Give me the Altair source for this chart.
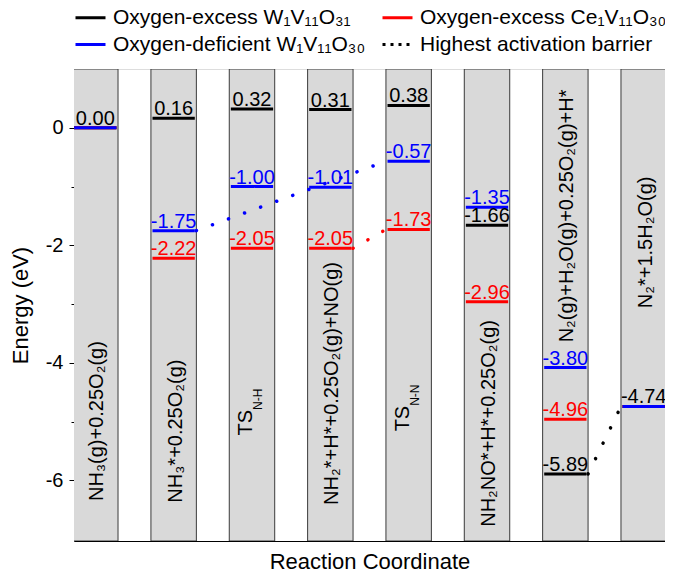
import altair as alt
import pandas as pd

FONT = "Liberation Sans"

# ---------------- data ----------------
step_labels = ["NH₃(g)+0.25O₂(g)", "NH₃*+0.25O₂(g)", "TS", "NH₂*+H*+0.25O₂(g)+NO(g)",
               "TS", "NH₂NO*+H*+0.25O₂(g)", "N₂(g)+H₂O(g)+0.25O₂(g)+H*", "N₂*+1.5H₂O(g)"]
step_subs = ["", "", "N-H", "", "N-N", "", "", ""]

series_names = ["Oxygen-excess W₁V₁₁O₃₁", "Oxygen-excess Ce₁V₁₁O₃₀", "Oxygen-deficient W₁V₁₁O₃₀"]
barrier_name = "Highest activation barrier"
# level heights as drawn in the picture
energy_w_excess = [0.00, 0.16, 0.32, 0.31, 0.38, -1.66, -5.89, -4.74]
energy_ce_excess = [0.00, -2.22, -2.05, -2.05, -1.73, -2.96, -4.96, -4.74]
energy_w_deficient = [0.00, -1.75, -1.00, -1.01, -0.57, -1.35, -4.08, -4.74]
# value labels as printed in the picture
labels_w_excess = ["0.00", "0.16", "0.32", "0.31", "0.38", "-1.66", "-5.89", "-4.74"]
labels_ce_excess = ["0.00", "-2.22", "-2.05", "-2.05", "-1.73", "-2.96", "-4.96", "-4.74"]
labels_w_deficient = ["0.00", "-1.75", "-1.00", "-1.01", "-0.57", "-1.35", "-3.80", "-4.74"]
series_colors = ["#000000", "#ff0000", "#0000ff"]
# highest activation barrier connectors: (series index, from step, to step)
barrier_links = [(2, 1, 4), (1, 3, 4), (0, 6, 7)]

# ---------------- layout ----------------
W, H = 591, 472
BAR_HALF = 0.29
LEVEL_HALF = 0.27
label_anchor_y = [-4.99, -5.16, -4.80, -4.35, -4.73, -5.03, -1.50, -1.95]

energies = [energy_w_excess, energy_ce_excess, energy_w_deficient]
value_labels = [labels_w_excess, labels_ce_excess, labels_w_deficient]

bars = pd.DataFrame({"x1": [i - BAR_HALF for i in range(len(step_labels))],
                     "x2": [i + BAR_HALF for i in range(len(step_labels))]})

lv_rows, lab_rows = [], []
for s, (name, col, vals, labs) in enumerate(zip(series_names, series_colors, energies, value_labels)):
    for i, (v, t) in enumerate(zip(vals, labs)):
        lv_rows.append({"series": name, "x1": i - LEVEL_HALF, "x2": i + LEVEL_HALF, "energy": v})
        dup = any(value_labels[k][i] == t for k in range(s))
        if not dup:
            lab_rows.append({"xc": i, "energy": v, "label": t, "col": col})
levels = pd.DataFrame(lv_rows)
vlabels = pd.DataFrame(lab_rows)

cn_rows = []
for cid, (s, a, b) in enumerate(barrier_links):
    cn_rows.append({"cid": cid, "ord": 0, "x": a + BAR_HALF, "energy": energies[s][a], "col": series_colors[s]})
    cn_rows.append({"cid": cid, "ord": 1, "x": b - BAR_HALF, "energy": energies[s][b], "col": series_colors[s]})
conns = pd.DataFrame(cn_rows)

cat = pd.DataFrame({"x": list(range(len(step_labels))), "y": label_anchor_y,
                    "text": step_labels, "sub": step_subs})
cat_plain = cat[cat["sub"] == ""]
cat_ts = cat[cat["sub"] != ""]

# ---------------- scales / axes ----------------
xs = alt.Scale(domain=[-0.272, 7.272], nice=False, zero=False)
ys = alt.Scale(domain=[-7.03, 1.0], nice=False, zero=False)
xaxis = alt.Axis(title="Reaction Coordinate", ticks=False, labels=False, grid=False,
                 domainColor="black", titleFontSize=22, titleFontWeight="normal",
                 titleFont=FONT, titleColor="black", titlePadding=10)
yaxis = alt.Axis(title="Energy (eV)", values=list(range(-6, 1)), grid=False,
                 labelExpr="datum.value % 2 === 0 ? '' + datum.value : ''",
                 tickSize={"condition": {"test": "datum.value % 2 === 0", "value": 5}, "value": 3},
                 domainColor="black", tickColor="black", labelColor="black", titleColor="black",
                 labelFontSize=20, labelFont=FONT, titleFontSize=22, titleFont=FONT,
                 titleFontWeight="normal", labelPadding=6, titlePadding=13)
yaxis_right = alt.Axis(orient="right", values=list(range(-6, 1)), labels=False, domain=False,
                       grid=False, tickSize=3, tickColor="black", title="")

legend_names = series_names + [barrier_name]
legend_colors = series_colors + ["#000000"]
legend_dashes = [[1, 0], [1, 0], [1, 0], [3, 5]]
leg = alt.Legend(orient="none", legendX=0, legendY=-68, columns=2, direction="horizontal",
                 title=None, labelFontSize=21, labelFont=FONT, labelColor="black", labelLimit=500,
                 symbolType="stroke", symbolSize=900, symbolStrokeWidth=3, rowPadding=0,
                 columnPadding=10, labelOffset=6, padding=0)

bar_layer = alt.Chart(bars).mark_rect(fill="#d9d9d9", stroke="#3a3a3a", strokeWidth=1, clip=True).encode(
    x=alt.X("x1:Q", scale=xs, axis=xaxis), x2="x2:Q",
    y=alt.value(0), y2=alt.value(H))

level_layer = alt.Chart(levels).mark_rule(strokeWidth=3).encode(
    x=alt.X("x1:Q", scale=xs, axis=xaxis), x2="x2:Q",
    y=alt.Y("energy:Q", scale=ys, axis=yaxis),
    color=alt.Color("series:N", scale=alt.Scale(domain=legend_names, range=legend_colors), legend=leg),
    strokeDash=alt.StrokeDash("series:N", scale=alt.Scale(domain=legend_names, range=legend_dashes), legend=leg))

right_axis_layer = alt.Chart(levels).mark_point(opacity=0).encode(
    x=alt.X("x1:Q", scale=xs, axis=xaxis),
    y=alt.Y("energy:Q", scale=ys, axis=yaxis_right))

conn_layer = alt.Chart(conns).mark_line(strokeWidth=3.5, strokeDash=[0.1, 17], strokeCap="round").encode(
    x=alt.X("x:Q", scale=xs, axis=xaxis), y=alt.Y("energy:Q", scale=ys, axis=None),
    color=alt.Color("col:N", scale=None), detail="cid:N", order="ord:Q")

vlabel_layer = alt.Chart(vlabels).mark_text(fontSize=20, font=FONT, baseline="alphabetic", align="center", dy=-3).encode(
    x=alt.X("xc:Q", scale=xs, axis=xaxis), y=alt.Y("energy:Q", scale=ys, axis=None),
    text="label:N", color=alt.Color("col:N", scale=None))

cat_layer = alt.Chart(cat_plain).mark_text(angle=270, fontSize=20, font=FONT, baseline="middle",
                                           align="center", dy=2, color="black").encode(
    x=alt.X("x:Q", scale=xs, axis=xaxis), y=alt.Y("y:Q", scale=ys, axis=None), text="text:N")

ts_layer = alt.Chart(cat_ts).mark_text(angle=270, fontSize=20, font=FONT, baseline="middle",
                                       align="right", dy=-6, color="black").encode(
    x=alt.X("x:Q", scale=xs, axis=xaxis), y=alt.Y("y:Q", scale=ys, axis=None), text="text:N")

ts_sub_layer = alt.Chart(cat_ts).mark_text(angle=270, fontSize=12, font=FONT, baseline="middle",
                                           align="left", dy=6, color="black").encode(
    x=alt.X("x:Q", scale=xs, axis=xaxis), y=alt.Y("y:Q", scale=ys, axis=None), text="sub:N")

chart = alt.layer(bar_layer, level_layer, right_axis_layer, conn_layer, vlabel_layer,
                  cat_layer, ts_layer, ts_sub_layer).resolve_axis(y="independent").properties(
    width=W, height=H,
    autosize=alt.AutoSizeParams(type="none"),
    padding={"left": 66, "top": 61, "right": 0, "bottom": 32},
).configure_view(stroke="black", strokeWidth=1).configure(font=FONT, background="white")

chart.save("out.html", embed_options={"renderer": "svg", "actions": False})
